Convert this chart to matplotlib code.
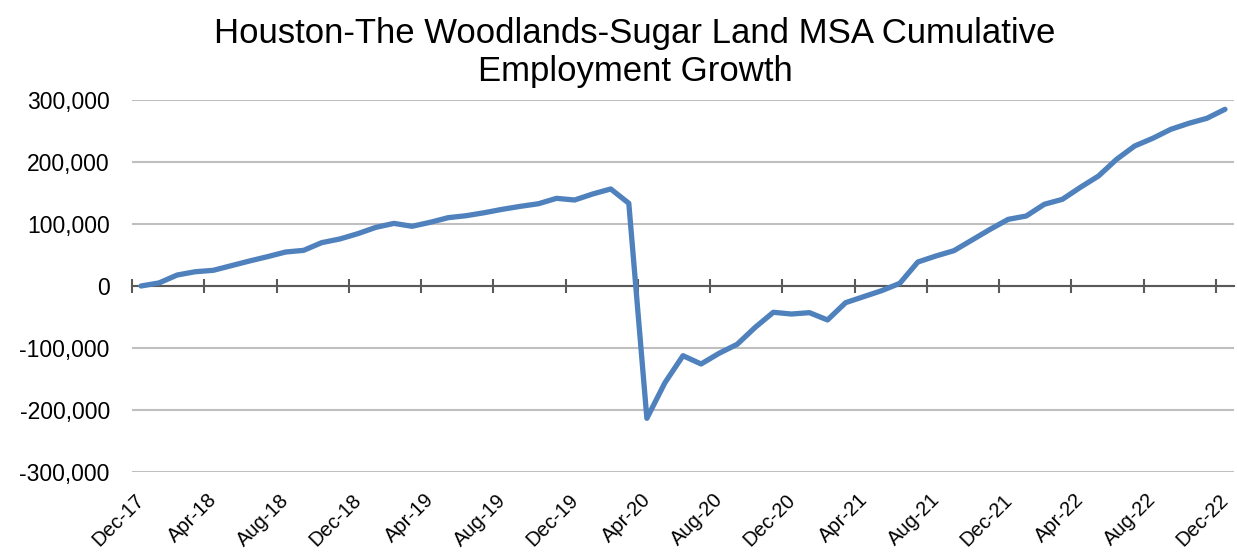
import matplotlib
matplotlib.use("Agg")
import matplotlib.pyplot as plt
import matplotlib.transforms as mtransforms
import numpy as np

plt.rcParams['font.family'] = ['Liberation Sans', 'DejaVu Sans']

title = "Houston-The Woodlands-Sugar Land MSA Cumulative\nEmployment Growth"

months = ["Dec-17", "Jan-18", "Feb-18", "Mar-18", "Apr-18", "May-18", "Jun-18", "Jul-18",
          "Aug-18", "Sep-18", "Oct-18", "Nov-18", "Dec-18", "Jan-19", "Feb-19", "Mar-19",
          "Apr-19", "May-19", "Jun-19", "Jul-19", "Aug-19", "Sep-19", "Oct-19", "Nov-19",
          "Dec-19", "Jan-20", "Feb-20", "Mar-20", "Apr-20", "May-20", "Jun-20", "Jul-20",
          "Aug-20", "Sep-20", "Oct-20", "Nov-20", "Dec-20", "Jan-21", "Feb-21", "Mar-21",
          "Apr-21", "May-21", "Jun-21", "Jul-21", "Aug-21", "Sep-21", "Oct-21", "Nov-21",
          "Dec-21", "Jan-22", "Feb-22", "Mar-22", "Apr-22", "May-22", "Jun-22", "Jul-22",
          "Aug-22", "Sep-22", "Oct-22", "Nov-22", "Dec-22"]

growth = [0, 5000, 17700, 23000, 25300, 32800, 40300, 47300,
          54800, 57500, 69900, 75800, 84400, 94600, 101000, 96300,
          102700, 110200, 113400, 118200, 123700, 128500, 132700, 141400,
          138700, 148400, 156500, 133400, -213400, -156000, -112400, -125800,
          -108500, -94000, -66600, -42400, -45200, -43000, -54800, -26900,
          -17200, -7500, 4300, 38700, 48400, 57000, 74200, 91400,
          107500, 112900, 131800, 139800, 159200, 177400, 204300, 225800,
          238200, 252700, 262400, 270500, 285000]

yticks = [-300000, -200000, -100000, 0, 100000, 200000, 300000]

fig = plt.figure(figsize=(12.37, 5.52), dpi=100)
ax = fig.add_axes([132/1237, 1 - 472/552, (1234 - 132)/1237, (472 - 100)/552])

x = np.arange(len(months))
ax.plot(x, growth, color='#4F81BD', lw=3.8, solid_joinstyle='round', solid_capstyle='round', zorder=3)

ax.set_xlim(-0.5, len(months) - 0.5)
ax.set_ylim(-300000, 300000)
ax.set_yticks(yticks)
ax.set_yticklabels([f"{v:,}" for v in yticks], fontsize=16.5)
ax.tick_params(axis='y', length=0, pad=16)
ax.grid(axis='y', color='#BFBFBF', lw=1.5, zorder=0)

for s in ['top', 'right', 'left']:
    ax.spines[s].set_visible(False)
ax.spines['bottom'].set_position(('data', 0))
ax.spines['bottom'].set_color('#595959')
ax.spines['bottom'].set_linewidth(1.5)
ax.spines['bottom'].set_zorder(2)
ax.set_xticks(np.arange(-0.5, len(months), 4))
ax.tick_params(axis='x', direction='inout', length=9.5, width=1.5, color='#595959', labelbottom=False)

sec = ax.secondary_xaxis('bottom')
sec.set_xticks(x[::4])
sec.set_xticklabels(months[::4], rotation=45, ha='right', rotation_mode='anchor', fontsize=14.5)
sec.tick_params(length=0, pad=6)
sec.spines['bottom'].set_visible(False)
offset = mtransforms.ScaledTranslation(-6/100, -10/100, fig.dpi_scale_trans)
for lbl in sec.get_xticklabels():
    lbl.set_transform(lbl.get_transform() + offset)

fig.text(635/1237, 1 - 81.5/552, title, fontsize=25, ha='center', va='baseline',
         multialignment='center', linespacing=1.2)

fig.savefig("out.png", dpi=100)
